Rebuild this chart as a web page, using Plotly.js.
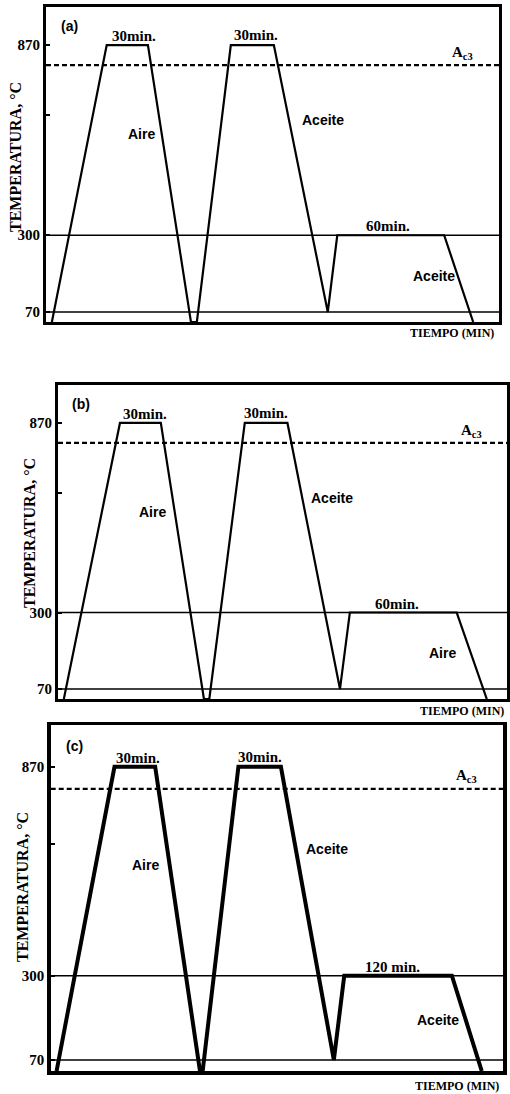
<!DOCTYPE html>
<html>
<head>
<meta charset="utf-8">
<script src="https://cdn.plot.ly/plotly-3.0.1.min.js"></script>
<style>
  html, body { margin: 0; padding: 0; background: #ffffff; }
  #chart { width: 510px; height: 1094px; }
</style>
</head>
<body>
<div id="chart"></div>
<script>
// ---------- data (schematic heat-treatment cycles) ----------
const panelNames   = ['(a)', '(b)', '(c)'];
const holdLabels   = ['60min.', '60min.', '120 min.'];
const firstHold    = '30min.';
const firstCool    = 'Aire';
const secondCool   = 'Aceite';
const lastCool     = ['Aceite', 'Aire', 'Aceite'];
const yTitle       = 'TEMPERATURA, °C';
const xTitle       = 'TIEMPO (MIN)';

// time (schematic units, 0-100 across the frame)
const timeA = [1.3, 13.4, 22.5, 32.0, 33.3, 40.8, 50.3, 62.2, 64.3, 87.9, 94.3];
const timeB = [1.3, 13.8, 22.9, 32.5, 33.7, 41.6, 51.1, 62.8, 65.0, 88.8, 95.5];
const timeC = [1.3, 14.1, 23.1, 33.0, 33.6, 41.5, 50.9, 62.6, 64.9, 88.7, 95.3];
// temperature, °C
const tempA = [40, 870, 870, 40, 40, 870, 870, 70, 300, 300, 40];
const tempB = [40, 870, 870, 40, 40, 870, 870, 70, 300, 300, 40];
const tempC = [40, 870, 870, 40, 40, 870, 870, 70, 300, 300, 40];

const refTemps  = [300, 70];       // horizontal reference lines
const ac3Temp   = 810;             // Ac3 critical temperature (dashed)
const timeSpan  = [0, 100];
const tickVals  = [70, 300, 870];
const tickText  = ['70', '300', '870'];
const minorTick = [660];

// ---------- layout geometry (pixels in a 510 x 1094 page) ----------
const W = 510, H = 1094;
const frames = [
  {l: 46,   r: 499, t: 7,   b: 322,  curveW: 2.2, refW: 1.6, boxW: 3,   tiempo: [452, 333], ytitle: [16, 157]},
  {l: 58,   r: 507, t: 385, b: 699,  curveW: 2.2, refW: 1.6, boxW: 3,   tiempo: [462, 711], ytitle: [29, 533]},
  {l: 50.7, r: 503, t: 725, b: 1071, curveW: 4,   refW: 1.6, boxW: 3.5, tiempo: [457, 1086], ytitle: [22, 887]}
];
const times = [timeA, timeB, timeC];
const temps = [tempA, tempB, tempC];

const serif = 'Liberation Serif, Times New Roman, serif';
const sans  = 'Liberation Sans, Arial, sans-serif';

const traces = [];
const layout = {
  width: W, height: H,
  margin: {l: 0, r: 0, t: 0, b: 0},
  paper_bgcolor: '#ffffff', plot_bgcolor: '#ffffff',
  showlegend: false,
  annotations: []
};

function ann(o) { layout.annotations.push(Object.assign({showarrow: false, xanchor: 'center', yanchor: 'middle'}, o)); }
const b = s => '<b>' + s + '</b>';

frames.forEach((f, i) => {
  const n = i === 0 ? '' : String(i + 1);
  const xa = 'x' + n, ya = 'y' + n;
  // main curve
  traces.push({x: times[i], y: temps[i], xaxis: xa, yaxis: ya, mode: 'lines',
               line: {color: '#000', width: f.curveW}, hoverinfo: 'skip'});
  // reference lines 300 and 70
  refTemps.forEach(t => traces.push({x: timeSpan, y: [t, t], xaxis: xa, yaxis: ya, mode: 'lines',
               line: {color: '#000', width: f.refW}, hoverinfo: 'skip'}));
  // Ac3 dashed line
  traces.push({x: timeSpan, y: [ac3Temp, ac3Temp], xaxis: xa, yaxis: ya, mode: 'lines',
               line: {color: '#000', width: 2.2, dash: '5px,3px'}, hoverinfo: 'skip'});

  layout['xaxis' + n] = {
    domain: [f.l / W, f.r / W], range: [0, 100], anchor: ya,
    showgrid: false, zeroline: false, showticklabels: false, ticks: '',
    showline: true, mirror: true, linecolor: '#000', linewidth: f.boxW, fixedrange: true
  };
  layout['yaxis' + n] = {
    domain: [1 - f.b / H, 1 - f.t / H], range: [40, 984], anchor: xa,
    showgrid: false, zeroline: false,
    tickvals: tickVals, ticktext: tickText.map(b),
    ticks: 'inside', ticklen: 4, tickwidth: 2, tickcolor: '#000',
    minor: {tickvals: minorTick, ticks: 'inside', ticklen: 4, tickwidth: 2, tickcolor: '#000', showgrid: false},
    tickfont: {family: serif, size: 15, color: '#000'},
    showline: true, mirror: true, linecolor: '#000', linewidth: f.boxW, fixedrange: true
  };

  const X = xa, Y = ya;
  const big = {family: serif, size: 15, color: '#000'};
  const lab = {family: sans, size: 14, color: '#000'};
  ann({xref: X, yref: Y, x: 5.2, y: 926, text: b(panelNames[i]), font: lab});
  ann({xref: X, yref: Y, x: 19.4, y: 870, yanchor: 'bottom', yshift: -1, text: b(firstHold), font: big});
  ann({xref: X, yref: Y, x: 46.3, y: 870, yanchor: 'bottom', yshift: 0, text: b(firstHold), font: big});
  ann({xref: X, yref: Y, x: 92.0, y: 846, text: b('A<sub>c3</sub>'), font: big});
  ann({xref: X, yref: Y, x: 21.0, y: 603, text: b(firstCool), font: lab});
  ann({xref: X, yref: Y, x: 61.1, y: 645, text: b(secondCool), font: lab});
  ann({xref: X, yref: Y, x: 75.6, y: 300, yanchor: 'bottom', yshift: -1, text: b(holdLabels[i]), font: big});
  ann({xref: X, yref: Y, x: 85.7, y: 179, text: b(lastCool[i]), font: lab});
  ann({xref: 'paper', yref: 'paper', x: f.tiempo[0] / W, y: 1 - f.tiempo[1] / H, text: b(xTitle),
       font: {family: serif, size: 12, color: '#000'}});
  ann({xref: 'paper', yref: 'paper', x: f.ytitle[0] / W, y: 1 - f.ytitle[1] / H, text: b(yTitle), textangle: -90,
       font: {family: serif, size: 16, color: '#000'}});
});

Plotly.newPlot('chart', traces, layout, {staticPlot: true, displayModeBar: false});
</script>
</body>
</html>
